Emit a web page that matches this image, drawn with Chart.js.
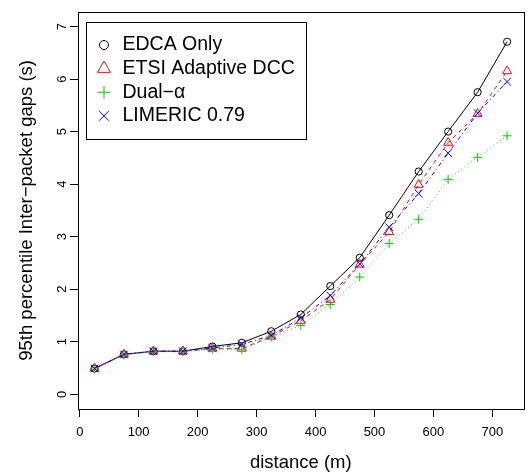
<!DOCTYPE html>
<html lang="en">
<head>
    <meta charset="UTF-8">
    <title>95th percentile inter-packet gaps</title>
    <style>
        body {
            margin: 0;
            background-color: #fff;
            overflow: hidden;
        }
        canvas {
            display: block;
        }
    </style>
</head>
<body>
    <canvas id="gapChart" width="530" height="474"></canvas>

    <script src="https://cdn.jsdelivr.net/npm/chart.js"></script>

    <script>
        // distance in metres
        const distances = [25, 75, 125, 175, 225, 275, 325, 375, 425, 475, 525, 575, 625, 675, 725];

        const edcaOnly = [0.49, 0.76, 0.82, 0.82, 0.91, 0.98, 1.20, 1.52, 2.06, 2.60, 3.41, 4.24, 5.00, 5.75, 6.71];
        const etsiDcc  = [0.49, 0.76, 0.82, 0.82, 0.87, 0.87, 1.10, 1.40, 1.80, 2.47, 3.09, 3.99, 4.79, 5.34, 6.15];
        const dualAlpha = [0.48, 0.75, 0.81, 0.81, 0.86, 0.85, 1.09, 1.31, 1.71, 2.23, 2.87, 3.33, 4.09, 4.51, 4.92];
        const limeric  = [0.49, 0.76, 0.82, 0.82, 0.88, 0.95, 1.12, 1.45, 1.88, 2.48, 3.18, 3.82, 4.59, 5.35, 5.95];

        const seriesNames = ['EDCA Only', 'ETSI Adaptive DCC', 'Dual\u2212\u03b1', 'LIMERIC 0.79'];

        const xTicks = [0, 100, 200, 300, 400, 500, 600, 700];
        const yTicks = [0, 1, 2, 3, 4, 5, 6, 7];

        const FONT = "'Liberation Sans', Arial, Helvetica, sans-serif";

        function toPoints(values) {
            return values.map((v, i) => ({ x: distances[i], y: v }));
        }

        function makeSet(label, values, color, style, radius, legendRadius, dash, order) {
            return {
                label: label,
                data: toPoints(values),
                borderColor: color,
                borderWidth: 1,
                borderDash: dash,
                backgroundColor: 'rgba(0,0,0,0)',
                pointStyle: style,
                pointRadius: radius,
                pointBorderColor: color,
                pointBackgroundColor: 'rgba(0,0,0,0)',
                pointBorderWidth: 1,
                legendRadius: legendRadius,
                tension: 0,
                fill: false,
                order: order
            };
        }

        const datasets = [
            makeSet(seriesNames[0], edcaOnly, '#000000', 'circle', 3.6, 4.5, [], 4),
            makeSet(seriesNames[1], etsiDcc, '#ff0000', 'triangle', 5.2, 7.5, [4, 4], 3),
            makeSet(seriesNames[2], dualAlpha, '#00cd00', 'cross', 4.5, 6.5, [1, 3], 2),
            makeSet(seriesNames[3], limeric, '#0000ff', 'crossRot', 5.4, 7, [1, 3, 4, 3], 1)
        ];

        // box round the plot plus the legend in the top-left corner
        const boxAndLegend = {
            id: 'boxAndLegend',
            afterDatasetsDraw(chart) {
                const ctx = chart.ctx;
                const a = chart.chartArea;
                ctx.save();
                ctx.strokeStyle = '#000';
                ctx.lineWidth = 1;
                ctx.strokeRect(Math.round(a.left) + 0.5, Math.round(a.top) + 0.5,
                    Math.round(a.right - a.left), Math.round(a.bottom - a.top));

                // legend
                ctx.strokeRect(86.5, 22.5, 220, 117);
                ctx.font = '19.5px ' + FONT;
                ctx.textBaseline = 'middle';
                ctx.textAlign = 'left';
                chart.data.datasets.forEach((ds, i) => {
                    const y = 45 + i * 23.6;
                    ctx.strokeStyle = ds.pointBorderColor;
                    ctx.fillStyle = 'rgba(0,0,0,0)';
                    ctx.lineWidth = 1;
                    Chart.helpers.drawPoint(ctx, {
                        pointStyle: ds.pointStyle,
                        radius: ds.legendRadius,
                        rotation: 0,
                        borderWidth: 1
                    }, 104, y);
                    ctx.fillStyle = '#000';
                    ctx.fillText(ds.label, 122.5, y);
                });
                ctx.restore();
            }
        };

        const ctx = document.getElementById('gapChart').getContext('2d');
        new Chart(ctx, {
            type: 'line',
            data: { datasets: datasets },
            plugins: [boxAndLegend],
            options: {
                responsive: false,
                animation: false,
                devicePixelRatio: 1,
                layout: { padding: { top: 7, right: 2, left: 0, bottom: 0 } },
                plugins: {
                    legend: { display: false },
                    tooltip: { enabled: false }
                },
                scales: {
                    x: {
                        type: 'linear',
                        position: 'bottom',
                        min: -3,
                        max: 753,
                        afterBuildTicks: s => { s.ticks = xTicks.map(v => ({ value: v })); },
                        afterFit: s => { s.height = 65; },
                        border: { display: false },
                        grid: {
                            drawOnChartArea: false,
                            drawTicks: true,
                            tickLength: 8,
                            color: '#000'
                        },
                        ticks: {
                            color: '#000',
                            font: { family: FONT, size: 13 },
                            padding: 8,
                            maxRotation: 0,
                            autoSkip: false
                        },
                        title: {
                            display: true,
                            text: 'distance (m)',
                            color: '#000',
                            font: { family: FONT, size: 18.5, lineHeight: 1 },
                            padding: { top: 0, bottom: 2 }
                        }
                    },
                    y: {
                        type: 'linear',
                        min: -0.28,
                        max: 7.28,
                        afterBuildTicks: s => { s.ticks = yTicks.map(v => ({ value: v })); },
                        afterFit: s => { s.width = 78; },
                        border: { display: false },
                        grid: {
                            drawOnChartArea: false,
                            drawTicks: true,
                            tickLength: 8,
                            color: '#000'
                        },
                        ticks: {
                            color: '#000',
                            font: { family: FONT, size: 13 },
                            padding: 4,
                            minRotation: 90,
                            maxRotation: 90,
                            crossAlign: 'center',
                            autoSkip: false
                        },
                        title: {
                            display: true,
                            text: '95th percentile Inter\u2212packet gaps (s)',
                            color: '#000',
                            font: { family: FONT, size: 18.5, lineHeight: 1 },
                            padding: { top: 18, bottom: 0 }
                        }
                    }
                }
            }
        });
    </script>
</body>
</html>
